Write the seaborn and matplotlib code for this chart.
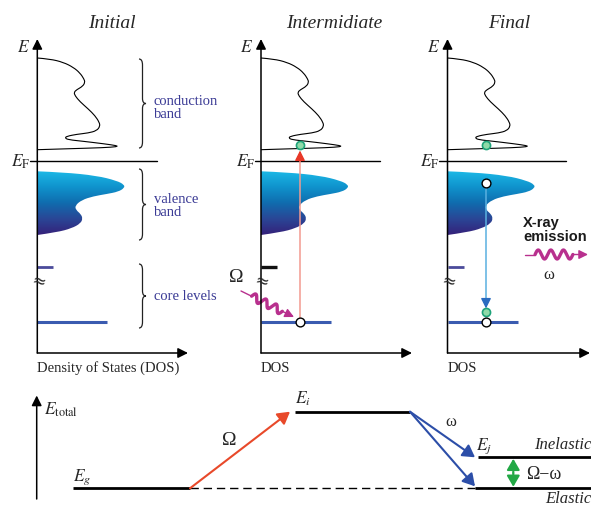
import numpy as np
import matplotlib
matplotlib.use("Agg")
import matplotlib.pyplot as plt
import seaborn as sns
import pandas as pd
from matplotlib.path import Path
from matplotlib.patches import PathPatch
from matplotlib.colors import LinearSegmentedColormap

# ---------------- data (schematic units = pixels of the reference) ----------------
panel_titles = ["Initial", "Intermidiate", "Final"]
panel_axis_x = [37.3, 261.0, 447.5]
panel_title_x = [112, 334, 509]
dos_axis_labels = ["Density of States (DOS)", "DOS", "DOS"]
x_axis_end = [188, 412, 590]
fermi_start = [30, 255, 439]
fermi_end = [157, 380, 566]
fermi_y = 162
axis_top, axis_bottom = 40, 354

# conduction-band DOS profile (energy position, DOS amplitude)
cb_energy = [59, 60, 63.3, 68.3, 74, 80, 83.3, 87.3, 90.7, 93.3, 96.7, 102.7, 110,
             116.7, 123.3, 127.3, 131.7, 134, 135.3, 137.3, 139, 140.7, 142.3,
             144.7, 146.7, 147.7, 148.7, 149.7, 150.7]
cb_dos = [0, 12.7, 26, 36, 42.7, 46.7, 47.7, 45.4, 39.4, 36.7, 37.7, 42.7, 51,
          57.7, 62, 62.7, 59.4, 51, 39.4, 29.4, 27.7, 31, 46, 66, 80, 80, 66, 32.7, 0]

# valence-band DOS profile
vb_energy = [172.3, 173.3, 176.7, 181.7, 185.7, 189, 192.7, 195, 197.3, 201, 206.7,
             211, 215, 219.3, 224.3, 229.3, 233.3, 236]
vb_dos = [0, 26, 59.4, 79.4, 87, 87, 81, 69.4, 56, 44.4, 37.7, 38.7, 43.4, 45.4,
          43.4, 34.4, 19.4, 0]

# core levels
core_level_y = [268, 323]
core_level_width = [16, 70]
core_short_colors = ["#4b4b9b", "#111111", "#4b4b9b"]
core_long_color = "#3a5bb0"
break_y = 281

band_labels = ["conduction\nband", "valence\nband", "core levels"]
brace_top = [60, 170, 265]
brace_bottom = [149, 241, 329]
band_label_y = [108, 206, 296]

# electrons / holes
electron_x = [299.5, 486, 486]
electron_y = [146, 146, 313]
hole_x = [300, 486, 486]
hole_y = [323, 184, 323]

# total-energy diagram
Eg_x, Eg_y = [72.7, 190], 489.3
Ei_x, Ei_y = [295, 410], 412.7
Ej_x, Ej_y = [478, 591], 458.3
El_x, El_y = [475, 591], 489.3

# ---------------- style ----------------
sns.set_theme(style="white")
plt.rcParams["font.family"] = ["Liberation Serif", "DejaVu Serif"]
plt.rcParams["mathtext.fontset"] = "stix"

fig = plt.figure(figsize=(5.91, 5.06), dpi=100)
ax = fig.add_axes([0, 0, 1, 1])
ax.set_xlim(0, 591)
ax.set_ylim(506, 0)
ax.axis("off")

label_color = "#3b3b95"


def arrow(p0, p1, color, lw=1.1, ms=10, hl=0.6, hw=0.3, style="-|>", z=5):
    ax.annotate("", xy=p1, xytext=p0,
                arrowprops=dict(arrowstyle=f"{style},head_length={hl},head_width={hw}",
                                color=color, lw=lw, mutation_scale=ms,
                                shrinkA=0, shrinkB=0), zorder=z)


def smooth_path(xs, ys, close=False):
    pts = list(zip(xs, ys))
    verts, codes = [pts[0]], [Path.MOVETO]
    n = len(pts)
    for i in range(1, n - 1):
        c = pts[i]
        if i < n - 2:
            e = ((pts[i][0] + pts[i + 1][0]) / 2, (pts[i][1] + pts[i + 1][1]) / 2)
        else:
            e = pts[n - 1]
        verts += [c, e]
        codes += [Path.CURVE3, Path.CURVE3]
    if close:
        verts.append(pts[0])
        codes.append(Path.CLOSEPOLY)
    return Path(verts, codes)


def brace(x, y0, y1):
    xm, xt = x + 3.5, x + 7
    ym = (y0 + y1) / 2
    verts = [(x, y0), (xm, y0), (xm, y0 + 6), (xm, ym - 5), (xm, ym), (xt, ym),
             (xm, ym), (xm, ym + 5), (xm, y1 - 6), (xm, y1), (x, y1)]
    codes = [Path.MOVETO, Path.CURVE3, Path.CURVE3, Path.LINETO, Path.CURVE3, Path.CURVE3,
             Path.CURVE3, Path.CURVE3, Path.LINETO, Path.CURVE3, Path.CURVE3]
    ax.add_patch(PathPatch(Path(verts, codes), fill=False, lw=0.9, ec="#222222"))


def photon(p0, p1, w0, w1, amp, periods, color):
    p0, p1 = np.array(p0, float), np.array(p1, float)
    d = p1 - p0
    L = np.hypot(*d)
    u = d / L
    n = np.array([u[1], -u[0]])
    t = np.linspace(w0, w1, 200)
    s = amp * np.sin(2 * np.pi * periods * (t - w0) / (w1 - w0))
    pts = p0[None, :] + (t * L)[:, None] * u[None, :] + s[:, None] * n[None, :]
    ax.plot([p0[0], p0[0] + w0 * L * u[0]], [p0[1], p0[1] + w0 * L * u[1]], color=color, lw=1.0)
    ax.plot(pts[:, 0], pts[:, 1], color=color, lw=2.4, solid_capstyle="round")
    q = p0 + w1 * L * u
    arrow(tuple(q), tuple(p1), color, lw=1.0, ms=9)


cmap = LinearSegmentedColormap.from_list(
    "vb", ["#1cb8e6", "#0f92cc", "#106cae", "#2a4696", "#35217a"])

for i, x0 in enumerate(panel_axis_x):
    # title
    ax.text(panel_title_x[i], 23, panel_titles[i], fontsize=14, style="italic",
            ha="center", va="center")
    # axes
    arrow((x0, axis_bottom), (x0, axis_top), "black", lw=1.1, ms=10)
    arrow((x0, axis_bottom), (x_axis_end[i], axis_bottom), "black", lw=1.1, ms=10)
    ax.text(x0 - 14, 48, r"$E$", fontsize=12.5, ha="center", va="center")
    ax.text(x0, 368, dos_axis_labels[i], fontsize=10.5, ha="left", va="center")
    # Fermi level
    fl = pd.DataFrame({"x": [fermi_start[i], fermi_end[i]], "y": [fermi_y, fermi_y]})
    sns.lineplot(data=fl, x="x", y="y", color="black", lw=1.0, ax=ax, sort=False,
                 estimator=None)
    ax.text(fermi_start[i], fermi_y, r"$E_{\mathrm{F}}$", fontsize=12.5,
            ha="right", va="center")
    # conduction band
    cpath = smooth_path(np.array(cb_dos) + x0, cb_energy)
    ax.add_patch(PathPatch(cpath, fill=False, lw=0.8, ec="black", zorder=3))
    # valence band with gradient
    vpath = smooth_path(np.array(vb_dos) + x0, vb_energy, close=True)
    vpatch = PathPatch(vpath, fc="none", ec="none", transform=ax.transData)
    ax.add_patch(vpatch)
    grad = np.linspace(0, 1, 128)[:, None]
    im = ax.imshow(grad, cmap=cmap, extent=(x0, x0 + 90, vb_energy[-1], vb_energy[0]),
                   aspect="auto", zorder=2, interpolation="bilinear")
    im.set_clip_path(vpatch)
    # core levels
    ax.plot([x0, x0 + core_level_width[0]], [core_level_y[0]] * 2,
            color=core_short_colors[i], lw=2.0 if i != 1 else 2.4, zorder=3,
            solid_capstyle="butt")
    ax.plot([x0, x0 + core_level_width[1]], [core_level_y[1]] * 2,
            color=core_long_color, lw=2.2, zorder=3, solid_capstyle="butt")
    ax.text(x0 + 1, break_y, "≈", fontsize=12, ha="center", va="center",
            rotation=-15, family="DejaVu Sans", zorder=6)
    ax.set_xlim(0, 591)
    ax.set_ylim(506, 0)

# braces and labels (initial panel)
for lab, t, b, ly in zip(band_labels, brace_top, brace_bottom, band_label_y):
    brace(139, t, b)
    ax.text(154, ly, lab, fontsize=10.5, color=label_color, ha="left", va="center",
            linespacing=0.95)

# excitation (intermediate)
ax.plot([300, 300], [319, 158], color="#f29a90", lw=1.1, zorder=4)
arrow((300, 162), (300, 151.5), "#e83828", lw=1.0, ms=10)
ax.text(236, 278, "Ω", fontsize=14, ha="center", va="center")
photon((241, 292), (294, 318), 0.2, 0.78, 3.8, 3, "#b8308e")

# emission (final)
ax.plot([486, 486], [189, 302], color="#5ab0e0", lw=1.1, zorder=4)
arrow((486, 300), (486, 309.5), "#2a6cc0", lw=1.0, ms=10)
ax.text(523, 230, "X-ray\nemission", fontsize=10.5, fontweight="bold",
        family="Liberation Sans", color="#1a1a1a", ha="left", va="center",
        linespacing=1.05)
photon((525, 255.5), (588, 255.5), 0.16, 0.76, 4.5, 3, "#b8308e")
ax.text(549, 275, "ω", fontsize=12, ha="center", va="center")

# electrons and holes
sns.scatterplot(x=electron_x, y=electron_y, s=34, color="#8fdaa8",
                edgecolor="#1fa37a", linewidth=1.2, ax=ax, zorder=7)
sns.scatterplot(x=hole_x, y=hole_y, s=40, color="white",
                edgecolor="black", linewidth=1.0, ax=ax, zorder=7)

# ---------------- total-energy diagram ----------------
arrow((36.7, 500), (36.7, 396.5), "black", lw=1.1, ms=10)
ax.text(44, 410, r"$E_{\mathrm{total}}$", fontsize=12.5, ha="left", va="center")

for xs, y in [(Eg_x, Eg_y), (Ei_x, Ei_y), (Ej_x, Ej_y), (El_x, El_y)]:
    ax.plot(xs, [y, y], color="black", lw=2.0, solid_capstyle="butt")
ax.plot([Eg_x[1], El_x[0]], [Eg_y, Eg_y], color="black", lw=1.0,
        linestyle=(0, (6, 3.5)))

ax.text(73, 477, r"$E_g$", fontsize=12.5, ha="left", va="center")
ax.text(295, 399, r"$E_i$", fontsize=12.5, ha="left", va="center")
ax.text(476, 446, r"$E_j$", fontsize=12.5, ha="left", va="center")

arrow((Eg_x[1], Eg_y), (Ei_x[0] - 5, Ei_y), "#e8492a", lw=1.5, ms=12, hw=0.35)
ax.text(229, 441, "Ω", fontsize=14, ha="center", va="center")
arrow((Ei_x[1], Ei_y), (475, Ej_y), "#2c4ea8", lw=1.5, ms=12, hw=0.35)
arrow((Ei_x[1], Ei_y), (475, El_y - 2), "#2c4ea8", lw=1.5, ms=12, hw=0.35)
ax.text(451, 422, "ω", fontsize=12, ha="center", va="center")

arrow((513.3, 474), (513.3, Ej_y + 1.5), "#22a845", lw=1.5, ms=11, hw=0.35)
arrow((513.3, 474), (513.3, El_y - 1.5), "#22a845", lw=1.5, ms=11, hw=0.35)
ax.text(526, 475, "Ω−ω", fontsize=13, ha="left", va="center")

ax.text(591, 445, "Inelastic", fontsize=12, style="italic", ha="right", va="center")
ax.text(545, 499, "Elastic", fontsize=12, style="italic", ha="left", va="center")

fig.savefig("out.png", dpi=100)
